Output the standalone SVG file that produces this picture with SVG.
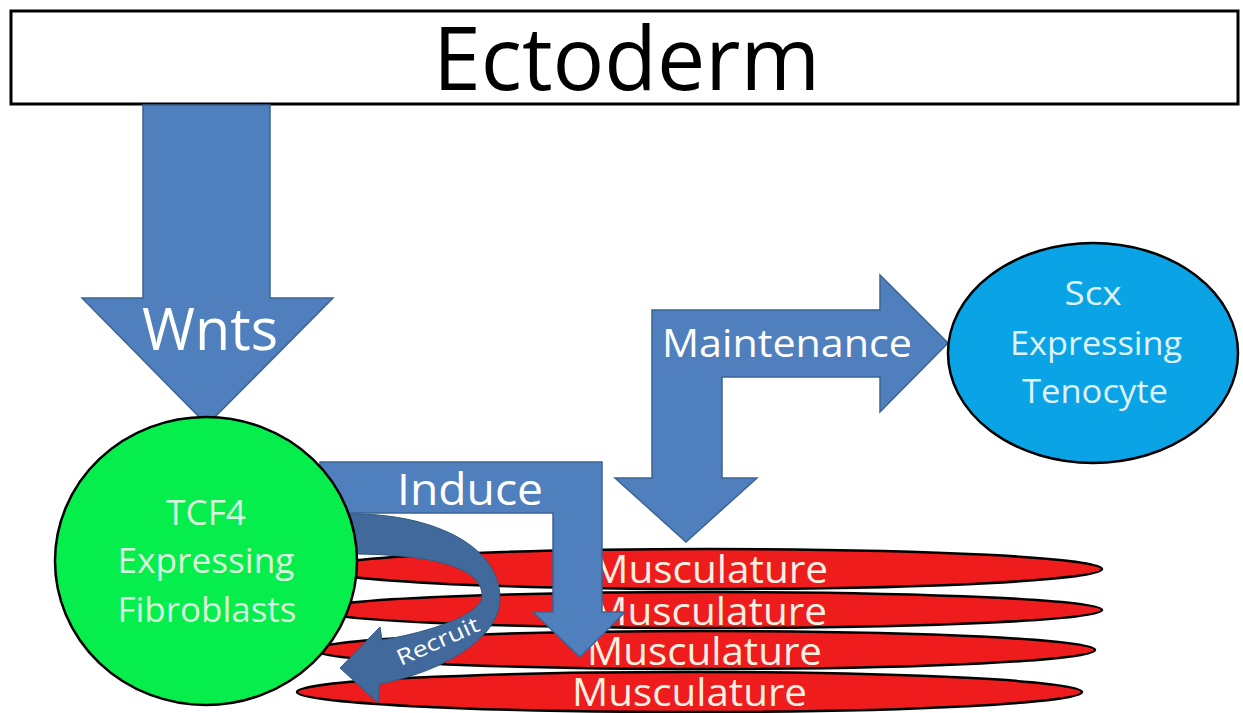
<svg xmlns="http://www.w3.org/2000/svg" width="1243" height="713" viewBox="0 0 1243 713">
<defs>
<style>
.arrow{fill:#4f7fbd;stroke:#3b6494;stroke-width:1.5;}
.recruit{fill:#41699b;stroke:#36597f;stroke-width:1;}
.muscle{fill:#ee1c1c;stroke:#000;stroke-width:2.5;}
.t{font-family:"Open Sans","Liberation Sans",sans-serif;text-anchor:middle;}
.w{fill:#ffffff;}
.mt{fill:#fbf0e2;font-size:39px;}
.gt{fill:#d9f7de;font-size:35px;}
.bt{fill:#dff2fa;font-size:33px;}
</style>
</defs>
<rect width="1243" height="713" fill="#ffffff"/>

<g id="ectoderm">
<rect x="11" y="11" width="1227" height="93" fill="#ffffff" stroke="#000" stroke-width="3"/>
<text class="t" x="626.5" y="90" font-size="88" fill="#000" textLength="387" lengthAdjust="spacingAndGlyphs">Ectoderm</text>
</g>

<g id="musculature">
<g id="muscle1">
<ellipse class="muscle" cx="710" cy="569" rx="392" ry="20"/>
<text class="t mt" x="710" y="583" textLength="236" lengthAdjust="spacingAndGlyphs">Musculature</text>
</g>
<g id="muscle2">
<ellipse class="muscle" cx="709" cy="610" rx="393" ry="18"/>
<text class="t mt" x="709" y="625" textLength="236" lengthAdjust="spacingAndGlyphs">Musculature</text>
</g>
<g id="muscle3">
<ellipse class="muscle" cx="704.5" cy="650" rx="390.5" ry="19"/>
<text class="t mt" x="704.5" y="665" textLength="235" lengthAdjust="spacingAndGlyphs">Musculature</text>
</g>
<g id="muscle4">
<ellipse class="muscle" cx="689.5" cy="692" rx="392.5" ry="20"/>
<text class="t mt" x="689.5" y="706" textLength="235" lengthAdjust="spacingAndGlyphs">Musculature</text>
</g>
</g>

<g id="connectors">
<g id="wnts">
<polygon class="arrow" points="143,105 270,105 270,298 333,298 207,425 82,298 143,298"/>
<text class="t w" x="210" y="350" font-size="58" textLength="136" lengthAdjust="spacingAndGlyphs">Wnts</text>
</g>
<g id="induce">
<polygon class="arrow" points="320,462 602,462 602,612 625,612 580,657 533,612 553,612 553,513 320,513"/>
<text class="t w" x="470" y="505" font-size="43" textLength="146" lengthAdjust="spacingAndGlyphs">Induce</text>
</g>
<g id="recruit">
<path class="recruit" d="M340 514 C430 511,500 545,500 598 C500 640,440 672,380 684 L378 703 L340 668 L380 627 L382 640 C430 632,480 615,482 597 C484 570,440 553,340 554 Z"/>
<text class="t w" x="0" y="0" font-size="22" transform="translate(441 648) rotate(-24)" textLength="88" lengthAdjust="spacingAndGlyphs">Recruit</text>
</g>
<g id="maintenance">
<polygon class="arrow" points="652,310 880,310 880,275 948,343 880,412 880,377 722,377 722,478 757,478 686,542 615,478 652,478"/>
<text class="t w" x="787" y="357" font-size="38" textLength="250" lengthAdjust="spacingAndGlyphs">Maintenance</text>
</g>
</g>

<g id="tcf4">
<ellipse cx="206" cy="561" rx="151" ry="144" fill="#06ee4c" stroke="#000" stroke-width="2.5"/>
<text class="t gt" x="206" y="525" textLength="80" lengthAdjust="spacingAndGlyphs">TCF4</text>
<text class="t gt" x="206" y="573" textLength="177" lengthAdjust="spacingAndGlyphs">Expressing</text>
<text class="t gt" x="207" y="622" textLength="179" lengthAdjust="spacingAndGlyphs">Fibroblasts</text>
</g>

<g id="scx">
<ellipse cx="1093" cy="353" rx="145" ry="110" fill="#0aa3e6" stroke="#000" stroke-width="2.5"/>
<text class="t bt" x="1093" y="305" textLength="57" lengthAdjust="spacingAndGlyphs">Scx</text>
<text class="t bt" x="1096" y="355" textLength="172" lengthAdjust="spacingAndGlyphs">Expressing</text>
<text class="t bt" x="1095" y="403" textLength="146" lengthAdjust="spacingAndGlyphs">Tenocyte</text>
</g>
</svg>
